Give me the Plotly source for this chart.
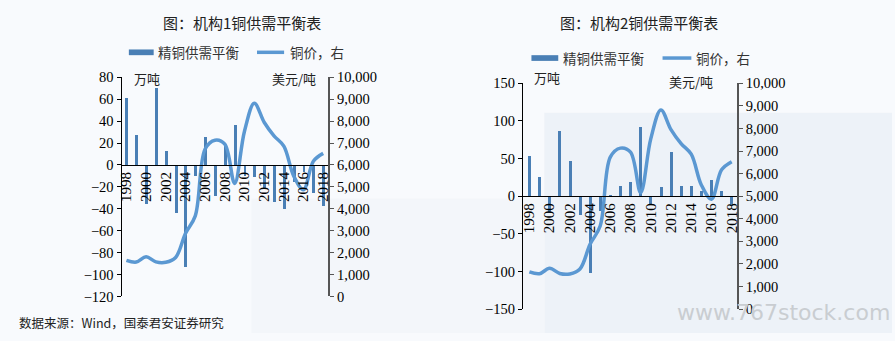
import plotly.graph_objects as go

# Annual data, 1998-2018
years = list(range(1998, 2019))
balance_inst1 = [61, 27, -36, 70, 12.5, -44, -93, -10, 25.6, -29, 17, 36,
                 -10, -11, -22, -34, -40, -16, -7, -26, -38]
balance_inst2 = [53.6, 25, -22, 86.5, 47, -25.5, -103, -20, -2, 13.5, 19, 91,
                 -12, 12, 58, 13.5, 13.5, 6, 20.7, 7, -14]
copper_price = [1650, 1570, 1810, 1580, 1560, 1780, 2870, 3680, 6730, 7130,
                6950, 5160, 7540, 8820, 7950, 7330, 6860, 5500, 4870, 6170, 6530]
tick_years = list(range(1998, 2019, 2))
tick_text = [str(y) for y in tick_years]

titles = ["图：机构1铜供需平衡表", "图：机构2铜供需平衡表"]
bar_name = "精铜供需平衡"
line_name = "铜价，右"
left_unit = "万吨"
right_unit = "美元/吨"
source_note = "数据来源：Wind，国泰君安证券研究"

BAR_COLOR = "#4a7fb5"
LINE_COLOR = "#5b98d2"
SERIF = "Liberation Serif"
CJK = "Noto Sans CJK SC"

W, H = 895, 341


def px(x):
    return x / W


def py(y):
    return 1 - y / H


fig = go.Figure()

# Panel geometry in pixels: (left, right, top, bottom), left-axis range, x range
panels = [
    dict(box=(119.3, 327.3, 72.7, 302.7), yr=(-120, 80), dt=20, xr=(1997.5, 2018.5),
         data=balance_inst1),
    dict(box=(523.3, 738.7, 79.0, 316.0), yr=(-150, 150), dt=50, xr=(1997.35, 2018.5),
         data=balance_inst2),
]

axis_font = dict(family=SERIF, size=14.5, color="#000")
year_font = dict(family=SERIF, size=15, color="#000")

for i, p in enumerate(panels):
    xa = "x" if i == 0 else "x2"
    ya_l = "y" if i == 0 else "y3"
    ya_r = "y2" if i == 0 else "y4"
    l, r, t, b = p["box"]
    y0, y1 = py(b), py(t)
    lo, hi = p["yr"]
    zero_pos = y0 + (0 - lo) / (hi - lo) * (y1 - y0)

    fig.add_trace(go.Bar(x=years, y=p["data"], width=0.3, marker_color=BAR_COLOR,
                         marker_line_width=0, xaxis=xa, yaxis=ya_l, name=bar_name,
                         showlegend=False))
    fig.add_trace(go.Scatter(x=years, y=copper_price, mode="lines",
                             line=dict(color=LINE_COLOR, width=3.5, shape="spline",
                                       smoothing=1.0),
                             xaxis=xa, yaxis=ya_r, name=line_name, showlegend=False))

    xkey = "xaxis" if i == 0 else "xaxis2"
    ylkey = "yaxis" if i == 0 else "yaxis3"
    yrkey = "yaxis2" if i == 0 else "yaxis4"

    fig.layout[xkey] = dict(domain=[px(l), px(r)], range=list(p["xr"]), anchor="free",
                            position=zero_pos, tickmode="array", tickvals=tick_years,
                            ticktext=tick_text, tickangle=-90, showline=True,
                            linecolor="#000", linewidth=1, ticks="", showgrid=False,
                            zeroline=False, tickfont=year_font, fixedrange=True)
    fig.layout[ylkey] = dict(domain=[y0, y1], range=list(p["yr"]), dtick=p["dt"],
                             anchor=xa, side="left", showline=True, linecolor="#000",
                             linewidth=1, ticks="outside", ticklen=4, tickcolor="#000",
                             showgrid=False, zeroline=False, tickfont=axis_font)
    fig.layout[yrkey] = dict(overlaying=ya_l, anchor=xa, side="right", range=[0, 10000],
                             dtick=1000, tickformat=",d", showline=True,
                             linecolor="#555", linewidth=2, ticks="outside", ticklen=4,
                             tickcolor="#555", showgrid=False, zeroline=False,
                             tickfont=axis_font)

fig.update_layout(
    width=W, height=H, margin=dict(l=0, r=0, t=0, b=0),
    paper_bgcolor="#f8fafd", plot_bgcolor="rgba(0,0,0,0)",
    bargap=0, showlegend=False,
)

# Soft decorative background panels
fig.add_shape(type="rect", xref="paper", yref="paper", x0=px(545), x1=1, y0=0, y1=py(110),
              fillcolor="#edf2f8", line_width=0, layer="below")
fig.add_shape(type="rect", xref="paper", yref="paper", x0=px(250), x1=px(545), y0=0,
              y1=py(200), fillcolor="#f3f6fa", line_width=0, layer="below")

annotations = []
shapes = []

# Titles
for title, cx in zip(titles, [241, 640]):
    annotations.append(dict(text=title, x=px(cx), y=py(15), xref="paper", yref="paper",
                            showarrow=False, xanchor="center", yanchor="middle",
                            font=dict(family=CJK, size=15, color="#222")))

# Hand-built legends: wide bar swatch and line swatch with labels
legend_rows = [
    dict(bar=(126.7, 151.7), bar_text=154, line=(255.7, 283), line_text=287, y=46.5),
    dict(bar=(532, 559), bar_text=562, line=(664, 693), line_text=696, y=52.5),
]
for lg in legend_rows:
    shapes.append(dict(type="rect", xref="paper", yref="paper", x0=px(lg["bar"][0]),
                       x1=px(lg["bar"][1]), y0=py(lg["y"] + 3), y1=py(lg["y"] - 3),
                       fillcolor=BAR_COLOR, line_width=0))
    shapes.append(dict(type="line", xref="paper", yref="paper", x0=px(lg["line"][0]),
                       x1=px(lg["line"][1]), y0=py(lg["y"]), y1=py(lg["y"]),
                       line=dict(color=LINE_COLOR, width=3.5)))
    annotations.append(dict(text=bar_name, x=px(lg["bar_text"]), y=py(lg["y"]),
                            xref="paper", yref="paper", showarrow=False,
                            xanchor="left", yanchor="middle",
                            font=dict(family=CJK, size=13.5, color="#333")))
    annotations.append(dict(text=line_name, x=px(lg["line_text"]), y=py(lg["y"]),
                            xref="paper", yref="paper", showarrow=False,
                            xanchor="left", yanchor="middle",
                            font=dict(family=CJK, size=13.5, color="#333")))

# Unit labels
units = [(130, 74, left_unit), (269, 74, right_unit), (533, 73, left_unit),
         (668, 77, right_unit)]
for ux, uy, txt in units:
    annotations.append(dict(text=txt, x=px(ux), y=py(uy), xref="paper", yref="paper",
                            showarrow=False, xanchor="left", yanchor="middle",
                            font=dict(family=CJK, size=13, color="#222")))

# Source note and site mark
annotations.append(dict(text=source_note, x=px(14), y=py(330), xref="paper",
                        yref="paper", showarrow=False, xanchor="left", yanchor="middle",
                        font=dict(family=CJK, size=12.5, color="#222")))
annotations.append(dict(text="www.767stock.com", x=px(895), y=py(319), xref="paper",
                        yref="paper", showarrow=False, xanchor="right", yanchor="middle",
                        font=dict(family="DejaVu Sans", size=22, color="#c9cdd1")))

fig.update_layout(annotations=annotations, shapes=list(fig.layout.shapes) + shapes)

fig.write_html("out.html")
